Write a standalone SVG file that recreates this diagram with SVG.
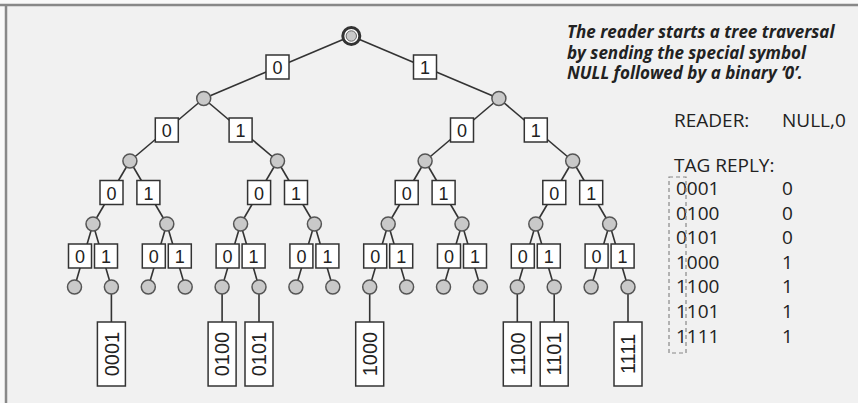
<svg xmlns="http://www.w3.org/2000/svg" width="858" height="403" viewBox="0 0 858 403">
  <defs>
    <style>
      .edge { stroke: #333; stroke-width: 1.6; fill: none; }
      .node { fill: #c9c9c9; stroke: #555; stroke-width: 1.5; }
      .bit rect { fill: #fff; stroke: #333; stroke-width: 1.5; }
      .bit text { font-family: "Liberation Sans", Arial, sans-serif; font-size: 18px; fill: #222; text-anchor: middle; }
      .tag rect { fill: #fff; stroke: #333; stroke-width: 1.5; }
      .tag text { font-family: "Liberation Sans", Arial, sans-serif; font-size: 20px; fill: #222; text-anchor: middle; }
      .note { font-family: "Open Sans", "Liberation Sans", sans-serif; font-size: 17px; font-weight: bold; font-style: italic; fill: #222; }
      .info { font-family: "Open Sans", "Liberation Sans", sans-serif; font-size: 19px; fill: #222; }
    </style>
  </defs>

  <!-- background and frame -->
  <rect x="0" y="0" width="858" height="403" fill="#f9f9f9"/>
  <rect x="6" y="5" width="852" height="398" fill="#f1f1f1"/>
  <line x1="0" y1="5" x2="858" y2="5" stroke="#888" stroke-width="2.5"/>
  <line x1="6" y1="4" x2="6" y2="403" stroke="#888" stroke-width="2.5"/>

  <!-- connectors -->
  <g id="connectors" class="edge">
    <!-- root to level 1 -->
    <line x1="351.3" y1="36" x2="203.7" y2="98.5"/>
    <line x1="351.3" y1="36" x2="498.9" y2="98.5"/>
    <!-- level 1 to level 2 -->
    <line x1="203.7" y1="98.5" x2="129.9" y2="161"/>
    <line x1="203.7" y1="98.5" x2="277.5" y2="161"/>
    <line x1="498.9" y1="98.5" x2="425.1" y2="161"/>
    <line x1="498.9" y1="98.5" x2="572.7" y2="161"/>
    <!-- level 2 to level 3 -->
    <line x1="129.9" y1="161" x2="93.0" y2="224"/>
    <line x1="129.9" y1="161" x2="166.8" y2="224"/>
    <line x1="277.5" y1="161" x2="240.6" y2="224"/>
    <line x1="277.5" y1="161" x2="314.4" y2="224"/>
    <line x1="425.1" y1="161" x2="388.2" y2="224"/>
    <line x1="425.1" y1="161" x2="462.0" y2="224"/>
    <line x1="572.7" y1="161" x2="535.8" y2="224"/>
    <line x1="572.7" y1="161" x2="609.6" y2="224"/>
    <!-- level 3 to leaves -->
    <line x1="93.0" y1="224" x2="74.5" y2="287"/>
    <line x1="93.0" y1="224" x2="111.4" y2="287"/>
    <line x1="166.8" y1="224" x2="148.3" y2="287"/>
    <line x1="166.8" y1="224" x2="185.2" y2="287"/>
    <line x1="240.6" y1="224" x2="222.1" y2="287"/>
    <line x1="240.6" y1="224" x2="259.0" y2="287"/>
    <line x1="314.4" y1="224" x2="295.9" y2="287"/>
    <line x1="314.4" y1="224" x2="332.8" y2="287"/>
    <line x1="388.2" y1="224" x2="369.7" y2="287"/>
    <line x1="388.2" y1="224" x2="406.6" y2="287"/>
    <line x1="462.0" y1="224" x2="443.5" y2="287"/>
    <line x1="462.0" y1="224" x2="480.4" y2="287"/>
    <line x1="535.8" y1="224" x2="517.3" y2="287"/>
    <line x1="535.8" y1="224" x2="554.2" y2="287"/>
    <line x1="609.6" y1="224" x2="591.1" y2="287"/>
    <line x1="609.6" y1="224" x2="628.0" y2="287"/>
    <!-- leaves to tags -->
    <line x1="111.4" y1="287" x2="111.4" y2="322"/>
    <line x1="222.1" y1="287" x2="222.1" y2="322"/>
    <line x1="259.0" y1="287" x2="259.0" y2="322"/>
    <line x1="369.7" y1="287" x2="369.7" y2="322"/>
    <line x1="517.3" y1="287" x2="517.3" y2="322"/>
    <line x1="554.2" y1="287" x2="554.2" y2="322"/>
    <line x1="628.0" y1="287" x2="628.0" y2="322"/>
  </g>

  <!-- bit labels on the branches -->
  <g id="bits">
    <g class="bit"><rect x="266" y="55" width="23" height="24"/><text x="277.5" y="74">0</text></g>
    <g class="bit"><rect x="413.5" y="55" width="23" height="24"/><text x="425" y="74">1</text></g>

    <g class="bit"><rect x="155.3" y="118" width="23" height="24"/><text x="166.8" y="137">0</text></g>
    <g class="bit"><rect x="229.1" y="118" width="23" height="24"/><text x="240.6" y="137">1</text></g>
    <g class="bit"><rect x="450.5" y="118" width="23" height="24"/><text x="462" y="137">0</text></g>
    <g class="bit"><rect x="524.3" y="118" width="23" height="24"/><text x="535.8" y="137">1</text></g>

    <g class="bit"><rect x="100" y="180.5" width="23" height="24"/><text x="111.5" y="199.5">0</text></g>
    <g class="bit"><rect x="136.9" y="180.5" width="23" height="24"/><text x="148.4" y="199.5">1</text></g>
    <g class="bit"><rect x="247.6" y="180.5" width="23" height="24"/><text x="259.1" y="199.5">0</text></g>
    <g class="bit"><rect x="284.5" y="180.5" width="23" height="24"/><text x="296" y="199.5">1</text></g>
    <g class="bit"><rect x="395.2" y="180.5" width="23" height="24"/><text x="406.7" y="199.5">0</text></g>
    <g class="bit"><rect x="432.1" y="180.5" width="23" height="24"/><text x="443.6" y="199.5">1</text></g>
    <g class="bit"><rect x="542.8" y="180.5" width="23" height="24"/><text x="554.3" y="199.5">0</text></g>
    <g class="bit"><rect x="579.7" y="180.5" width="23" height="24"/><text x="591.2" y="199.5">1</text></g>

    <g class="bit"><rect x="68.5" y="244" width="23" height="24"/><text x="80" y="263">0</text></g>
    <g class="bit"><rect x="94.5" y="244" width="23" height="24"/><text x="106" y="263">1</text></g>
    <g class="bit"><rect x="142.3" y="244" width="23" height="24"/><text x="153.8" y="263">0</text></g>
    <g class="bit"><rect x="168.3" y="244" width="23" height="24"/><text x="179.8" y="263">1</text></g>
    <g class="bit"><rect x="216.1" y="244" width="23" height="24"/><text x="227.6" y="263">0</text></g>
    <g class="bit"><rect x="242.1" y="244" width="23" height="24"/><text x="253.6" y="263">1</text></g>
    <g class="bit"><rect x="289.9" y="244" width="23" height="24"/><text x="301.4" y="263">0</text></g>
    <g class="bit"><rect x="315.9" y="244" width="23" height="24"/><text x="327.4" y="263">1</text></g>
    <g class="bit"><rect x="363.7" y="244" width="23" height="24"/><text x="375.2" y="263">0</text></g>
    <g class="bit"><rect x="389.7" y="244" width="23" height="24"/><text x="401.2" y="263">1</text></g>
    <g class="bit"><rect x="437.5" y="244" width="23" height="24"/><text x="449" y="263">0</text></g>
    <g class="bit"><rect x="463.5" y="244" width="23" height="24"/><text x="475" y="263">1</text></g>
    <g class="bit"><rect x="511.3" y="244" width="23" height="24"/><text x="522.8" y="263">0</text></g>
    <g class="bit"><rect x="537.3" y="244" width="23" height="24"/><text x="548.8" y="263">1</text></g>
    <g class="bit"><rect x="585.1" y="244" width="23" height="24"/><text x="596.6" y="263">0</text></g>
    <g class="bit"><rect x="611.1" y="244" width="23" height="24"/><text x="622.6" y="263">1</text></g>
  </g>

  <!-- root node -->
  <g id="root">
    <circle cx="351.3" cy="36" r="8.5" fill="#fff" stroke="#333" stroke-width="3"/>
    <circle cx="351.3" cy="36" r="5.2" fill="#c9c9c9" stroke="#666" stroke-width="1"/>
  </g>

  <!-- internal nodes -->
  <g id="n0"><circle class="node" cx="203.7" cy="98.5" r="7"/></g>
  <g id="n1"><circle class="node" cx="498.9" cy="98.5" r="7"/></g>
  <g id="n00"><circle class="node" cx="129.9" cy="161" r="7"/></g>
  <g id="n01"><circle class="node" cx="277.5" cy="161" r="7"/></g>
  <g id="n10"><circle class="node" cx="425.1" cy="161" r="7"/></g>
  <g id="n11"><circle class="node" cx="572.7" cy="161" r="7"/></g>
  <g id="n000"><circle class="node" cx="93.0" cy="224" r="7"/></g>
  <g id="n001"><circle class="node" cx="166.8" cy="224" r="7"/></g>
  <g id="n010"><circle class="node" cx="240.6" cy="224" r="7"/></g>
  <g id="n011"><circle class="node" cx="314.4" cy="224" r="7"/></g>
  <g id="n100"><circle class="node" cx="388.2" cy="224" r="7"/></g>
  <g id="n101"><circle class="node" cx="462.0" cy="224" r="7"/></g>
  <g id="n110"><circle class="node" cx="535.8" cy="224" r="7"/></g>
  <g id="n111"><circle class="node" cx="609.6" cy="224" r="7"/></g>

  <!-- leaf nodes -->
  <g id="leaf0000"><circle class="node" cx="74.5" cy="287" r="7"/></g>
  <g id="leaf0001"><circle class="node" cx="111.4" cy="287" r="7"/></g>
  <g id="leaf0010"><circle class="node" cx="148.3" cy="287" r="7"/></g>
  <g id="leaf0011"><circle class="node" cx="185.2" cy="287" r="7"/></g>
  <g id="leaf0100"><circle class="node" cx="222.1" cy="287" r="7"/></g>
  <g id="leaf0101"><circle class="node" cx="259.0" cy="287" r="7"/></g>
  <g id="leaf0110"><circle class="node" cx="295.9" cy="287" r="7"/></g>
  <g id="leaf0111"><circle class="node" cx="332.8" cy="287" r="7"/></g>
  <g id="leaf1000"><circle class="node" cx="369.7" cy="287" r="7"/></g>
  <g id="leaf1001"><circle class="node" cx="406.6" cy="287" r="7"/></g>
  <g id="leaf1010"><circle class="node" cx="443.5" cy="287" r="7"/></g>
  <g id="leaf1011"><circle class="node" cx="480.4" cy="287" r="7"/></g>
  <g id="leaf1100"><circle class="node" cx="517.3" cy="287" r="7"/></g>
  <g id="leaf1101"><circle class="node" cx="554.2" cy="287" r="7"/></g>
  <g id="leaf1110"><circle class="node" cx="591.1" cy="287" r="7"/></g>
  <g id="leaf1111"><circle class="node" cx="628.0" cy="287" r="7"/></g>

  <!-- tags present in the field -->
  <g id="tag0001" class="tag"><rect x="97.4" y="322" width="28" height="64"/><text transform="translate(118.6 354) rotate(-90)">0001</text></g>
  <g id="tag0100" class="tag"><rect x="208.1" y="322" width="28" height="64"/><text transform="translate(229.3 354) rotate(-90)">0100</text></g>
  <g id="tag0101" class="tag"><rect x="245.0" y="322" width="28" height="64"/><text transform="translate(266.2 354) rotate(-90)">0101</text></g>
  <g id="tag1000" class="tag"><rect x="355.7" y="322" width="28" height="64"/><text transform="translate(376.9 354) rotate(-90)">1000</text></g>
  <g id="tag1100" class="tag"><rect x="503.3" y="322" width="28" height="64"/><text transform="translate(524.5 354) rotate(-90)">1100</text></g>
  <g id="tag1101" class="tag"><rect x="540.2" y="322" width="28" height="64"/><text transform="translate(561.4 354) rotate(-90)">1101</text></g>
  <g id="tag1111" class="tag"><rect x="614.0" y="322" width="28" height="64"/><text transform="translate(635.2 354) rotate(-90)">1111</text></g>

  <!-- explanation -->
  <g id="note">
    <text class="note" x="567" y="38">The reader starts a tree traversal</text>
    <text class="note" x="567" y="59">by sending the special symbol</text>
    <text class="note" x="567" y="79">NULL followed by a binary ‘0’.</text>
  </g>

  <!-- reader command and tag replies -->
  <g id="protocol">
    <text class="info" x="674" y="127">READER:</text>
    <text class="info" x="782" y="127">NULL,0</text>
    <text class="info" x="674" y="172">TAG REPLY:</text>
    <text class="info" x="676" y="195">0001</text><text class="info" x="782" y="195">0</text>
    <text class="info" x="676" y="219.6">0100</text><text class="info" x="782" y="219.6">0</text>
    <text class="info" x="676" y="244.2">0101</text><text class="info" x="782" y="244.2">0</text>
    <text class="info" x="676" y="268.8">1000</text><text class="info" x="782" y="268.8">1</text>
    <text class="info" x="676" y="293.4">1100</text><text class="info" x="782" y="293.4">1</text>
    <text class="info" x="676" y="318">1101</text><text class="info" x="782" y="318">1</text>
    <text class="info" x="676" y="342.6">1111</text><text class="info" x="782" y="342.6">1</text>
    <rect x="669" y="177" width="17" height="176" fill="none" stroke="#888" stroke-width="1.2" stroke-dasharray="4,3"/>
  </g>
</svg>
